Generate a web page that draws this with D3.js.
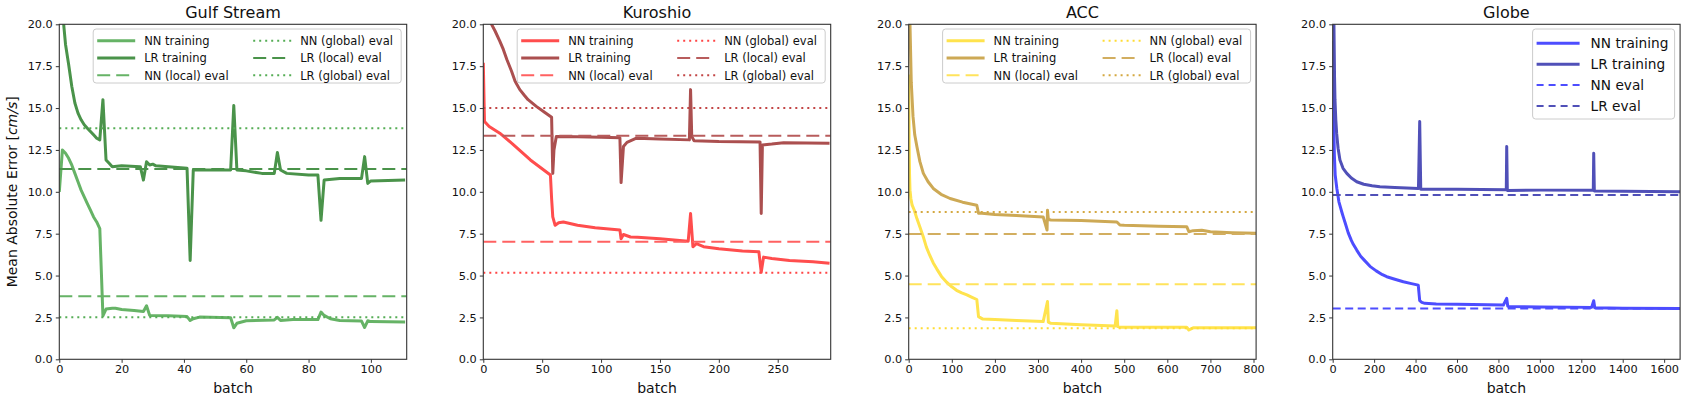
<!DOCTYPE html>
<html>
<head>
<meta charset="utf-8">
<script src="https://cdn.jsdelivr.net/npm/d3@7"></script>
<style>
  html,body{margin:0;padding:0;background:#fff;}
  svg{display:block;font-family:"DejaVu Sans",sans-serif;}
</style>
</head>
<body>
<svg id="chart" width="1687" height="401"></svg>
<script>
// Four training-curve panels: MAE [cm/s] per batch, NN vs LR, with eval levels

// ── DATA ─────────────────────────────────────────────────────────────────
var titles=["Gulf Stream","Kuroshio","ACC","Globe"];
var xMax=[111.5,295,806,1677];
var xTicks=[[0,20,40,60,80,100],[0,50,100,150,200,250],[0,100,200,300,400,500,600,700,800],[0,200,400,600,800,1000,1200,1400,1600]];
var yTicks=[0,2.5,5,7.5,10,12.5,15,17.5,20];

// [batch, MAE]
var gulfNN=[[0,10.0],[1,12.5],[2,12.3],[3,12.0],[4,11.6],[5,11.1],[6,10.6],[7,10.1],[8,9.7],[9,9.3],[10,8.9],[11,8.5],[12,8.2],[13,7.8],[14,2.6],[15,3.0],[17,3.05],[18,3.05],[20,2.97],[24,2.92],[27,2.85],[28,3.2],[29,2.62],[35,2.6],[41,2.55],[42,2.32],[43,2.42],[45,2.52],[55,2.48],[56,1.88],[57,2.15],[60,2.3],[69,2.35],[70,2.5],[71,2.32],[75,2.38],[83,2.37],[84,2.82],[85,2.62],[87,2.42],[90,2.32],[97,2.28],[98,1.9],[99,2.3],[100,2.25],[111,2.22]];
var gulfLR=[[0,25],[1,21],[1.5,19.8],[2,18.8],[3,17.6],[4,16.3],[5,15.3],[6,14.7],[7,14.3],[8,14.0],[9,13.8],[10,13.6],[11,13.4],[12,13.2],[13,13.1],[14,15.5],[15,11.9],[16,11.7],[17,11.5],[20,11.55],[26,11.5],[27,10.7],[28,11.8],[29,11.6],[30,11.65],[31,11.55],[35,11.5],[41,11.4],[42,5.9],[43,11.3],[55,11.3],[56,15.15],[57,11.3],[60,11.25],[65,11.1],[69,11.1],[70,12.35],[71,11.3],[73,11.1],[80,11.0],[83,11.0],[84,8.3],[85,10.7],[90,10.8],[97,10.8],[98,12.1],[99,10.5],[100,10.65],[111,10.7]];
var kuroNN=[[0,17.7],[1,14.2],[5,13.9],[14,13.5],[25,12.85],[40,11.9],[57,11.0],[58,9.6],[59,8.5],[61,8.0],[64,8.15],[68,8.2],[80,8.0],[95,7.85],[116,7.72],[117,7.2],[119,7.45],[125,7.3],[131,7.28],[150,7.2],[174,7.05],[176,8.7],[178,6.72],[181,6.9],[187,6.72],[200,6.6],[220,6.47],[234,6.42],[236,5.2],[238,6.1],[245,6.02],[260,5.9],[280,5.82],[294,5.73]];
var kuroLR=[[0,30],[7,20],[10,19.6],[14,19.0],[17,18.5],[20,17.9],[24,17.2],[27,16.6],[31,16.1],[35,15.75],[38,15.5],[45,15.1],[52,14.75],[58,14.45],[59,11.1],[60,12.5],[62,13.3],[80,13.28],[100,13.25],[116,13.22],[117,10.55],[119,12.7],[122,12.95],[130,13.2],[150,13.15],[175,13.1],[176,16.1],[177,13.3],[179,13.05],[200,13.0],[235,12.98],[236,8.7],[237,12.8],[245,12.85],[255,12.93],[294,12.9]];
var accNN=[[0,17.0],[1,13.0],[2,11.0],[3,10.1],[5,9.6],[8,9.2],[13,8.9],[19,8.4],[26,7.9],[34,7.3],[41,6.7],[49,6.2],[57,5.75],[65,5.4],[76,4.95],[88,4.6],[100,4.33],[111,4.12],[123,3.97],[135,3.85],[147,3.7],[158,3.57],[162,2.55],[172,2.4],[200,2.37],[250,2.32],[312,2.25],[322,3.45],[324,2.22],[330,2.15],[400,2.07],[479,1.99],[483,2.9],[485,1.95],[490,1.92],[560,1.92],[645,1.91],[650,1.75],[660,1.88],[806,1.88]];
var accLR=[[0,30],[3,20],[6,16.5],[10,14.5],[14,13.4],[19,12.7],[26,11.8],[34,11.1],[45,10.6],[57,10.2],[75,9.85],[96,9.6],[125,9.38],[158,9.2],[162,8.72],[170,8.72],[200,8.65],[250,8.58],[312,8.5],[321,7.72],[322,8.9],[324,8.35],[330,8.32],[400,8.28],[483,8.2],[490,8.02],[500,8.0],[580,7.95],[645,7.92],[650,7.62],[660,7.68],[680,7.7],[700,7.62],[750,7.56],[806,7.52]];
var globeNN=[[0,19.0],[4,15],[8,12.2],[12,11.0],[20,10.2],[30,9.4],[45,8.75],[51,8.5],[60,8.15],[75,7.55],[90,7.1],[100,6.85],[116,6.52],[135,6.15],[150,5.95],[180,5.55],[210,5.28],[240,5.05],[261,4.93],[300,4.78],[341,4.63],[380,4.52],[413,4.43],[420,3.5],[430,3.4],[445,3.34],[500,3.3],[600,3.28],[824,3.24],[840,3.64],[845,3.18],[850,3.15],[1000,3.12],[1250,3.1],[1260,3.5],[1265,3.08],[1400,3.05],[1677,3.03]];
var globeLR=[[0,30],[6,20],[9,16.8],[11,15.5],[15,14.3],[19,13.5],[26,12.6],[35,11.9],[50,11.4],[68,11.1],[90,10.82],[116,10.6],[150,10.45],[190,10.36],[228,10.3],[300,10.25],[414,10.2],[420,14.2],[425,10.15],[600,10.15],[838,10.12],[840,12.7],[843,10.08],[1000,10.1],[1258,10.1],[1260,12.3],[1263,10.05],[1400,10.03],[1677,10.0]];

// eval levels: NN local, LR local, NN global, LR global
var gulfEval=[3.76,11.36,2.51,13.79];
var kuroEval=[7.02,13.35,5.17,15.0];
var accEval=[4.48,7.48,1.85,8.79];
var globeEval=[3.04,9.81];

// ── STYLES ───────────────────────────────────────────────────────────────
var DASH="13,6",DOT="2,4",GDASH="8,4.5";
var panels=[
  {nn:gulfNN,lr:gulfLR,ev:gulfEval,c:["#66b366","#4a934a","#66b366","#4a934a","#55ad55","#55ad55"]},
  {nn:kuroNN,lr:kuroLR,ev:kuroEval,c:["#ff4d4d","#ab4f4f","#ff6161","#b85c5c","#ff4545","#c24545"]},
  {nn:accNN,lr:accLR,ev:accEval,c:["#ffe34d","#cda955","#ffe35c","#d2ae60","#ffdc33","#d4a840"]},
  {nn:globeNN,lr:globeLR,ev:globeEval,c:["#4d4dff","#5050b8","#4d4dff","#5050b8"]}
];

var PL=[59.3,483.3,908.7,1332.7],PW=347.4,PT=24.3,PH=335;
var svg=d3.select("#chart");
var FONT="DejaVu Sans, sans-serif";

panels.forEach(function(p,i){
  var x=d3.scaleLinear().domain([0,xMax[i]]).range([PL[i],PL[i]+PW]);
  var y=d3.scaleLinear().domain([0,20]).range([PT+PH,PT]);
  var line=d3.line().x(function(d){return x(d[0]);}).y(function(d){return y(d[1]);});
  var g=svg.append("g");

  g.append("clipPath").attr("id","clip"+i).append("rect")
    .attr("x",PL[i]).attr("y",PT).attr("width",PW).attr("height",PH);
  var plot=g.append("g").attr("clip-path","url(#clip"+i+")");

  // séries d'entraînement
  [[p.nn,p.c[0]],[p.lr,p.c[1]]].forEach(function(s){
    plot.append("path").datum(s[0]).attr("d",line).attr("fill","none")
      .attr("stroke",s[1]).attr("stroke-width",3).attr("stroke-linejoin","round");
  });

  // niveaux d'évaluation (horizontaux)
  var evs;
  if(i<3){
    evs=[[p.ev[0],p.c[2],DASH],[p.ev[1],p.c[3],DASH],[p.ev[2],p.c[4],DOT],[p.ev[3],p.c[5],DOT]];
  }else{
    evs=[[p.ev[0],p.c[2],GDASH],[p.ev[1],p.c[3],GDASH]];
  }
  evs.forEach(function(e){
    plot.append("path").datum([[0,e[0]],[xMax[i],e[0]]]).attr("d",line).attr("fill","none")
      .attr("stroke",e[1]).attr("stroke-width",2).attr("stroke-dasharray",e[2]);
  });

  // axes
  var ax=g.append("g").attr("transform","translate(0,"+(PT+PH)+")")
    .call(d3.axisBottom(x).tickValues(xTicks[i]).tickSize(3.5).tickPadding(2.5).tickFormat(d3.format("d")));
  var ay=g.append("g").attr("transform","translate("+PL[i]+",0)")
    .call(d3.axisLeft(y).tickValues(yTicks).tickSize(3.5).tickPadding(3).tickFormat(d3.format(".1f")));
  [ax,ay].forEach(function(a){
    a.select(".domain").remove();
    a.selectAll("line").attr("stroke","#333");
    a.selectAll("text").attr("font-family",FONT).attr("font-size",11.3).attr("fill","#111");
  });

  g.append("rect").attr("x",PL[i]).attr("y",PT).attr("width",PW).attr("height",PH)
    .attr("fill","none").attr("stroke","#333").attr("stroke-width",1.1);

  g.append("text").attr("x",PL[i]+PW/2).attr("y",18.3).attr("text-anchor","middle")
    .attr("font-family",FONT).attr("font-size",16).attr("fill","#111").text(titles[i]);
  g.append("text").attr("x",PL[i]+PW/2).attr("y",392.5).attr("text-anchor","middle")
    .attr("font-family",FONT).attr("font-size",14).attr("fill","#111").text("batch");

  // légende
  var lg=g.append("g");
  var right=PL[i]+PW-5.5;
  if(i<3){
    var bx=right-308;
    lg.append("rect").attr("x",bx).attr("y",29).attr("width",308).attr("height",54).attr("rx",3)
      .attr("fill","#fff").attr("fill-opacity",0.8).attr("stroke","#ccc");
    var items=[
      ["NN training",p.c[0],null,3,0,0],["LR training",p.c[1],null,3,0,1],["NN (local) eval",p.c[2],DASH,2,0,2],
      ["NN (global) eval",p.c[4],DOT,2,1,0],["LR (local) eval",p.c[3],DASH,2,1,1],["LR (global) eval",p.c[5],DOT,2,1,2]
    ];
    items.forEach(function(it){
      var hx=bx+(it[4]?160:4),tx=bx+(it[4]?207:51),cy=40.7+it[5]*17.3;
      lg.append("line").attr("x1",hx).attr("x2",hx+38).attr("y1",cy).attr("y2",cy)
        .attr("stroke",it[1]).attr("stroke-width",it[3]).attr("stroke-dasharray",it[2]);
      lg.append("text").attr("x",tx).attr("y",cy+4.2).attr("font-family",FONT).attr("font-size",11.5)
        .attr("fill","#111").text(it[0]);
    });
  }else{
    var bx2=right-142;
    lg.append("rect").attr("x",bx2).attr("y",29).attr("width",142).attr("height",90).attr("rx",3)
      .attr("fill","#fff").attr("fill-opacity",0.8).attr("stroke","#ccc");
    var gitems=[["NN training",p.c[0],null,3],["LR training",p.c[1],null,3],["NN eval",p.c[2],"7,5",2],["LR eval",p.c[3],"7,5",2]];
    gitems.forEach(function(it,k){
      var cy=43.3+k*20.9;
      lg.append("line").attr("x1",bx2+4).attr("x2",bx2+47).attr("y1",cy).attr("y2",cy)
        .attr("stroke",it[1]).attr("stroke-width",it[3]).attr("stroke-dasharray",it[2]);
      lg.append("text").attr("x",bx2+58).attr("y",cy+5).attr("font-family",FONT).attr("font-size",13.7)
        .attr("fill","#111").text(it[0]);
    });
  }
});

// libellé Y (panneau de gauche)
var yl=svg.append("text").attr("transform","translate(17,"+(PT+PH/2)+") rotate(-90)")
  .attr("text-anchor","middle").attr("font-family",FONT).attr("font-size",14).attr("fill","#111");
yl.append("tspan").text("Mean Absolute Error [");
yl.append("tspan").attr("font-style","italic").text("cm/s");
yl.append("tspan").text("]");
</script>
</body>
</html>
